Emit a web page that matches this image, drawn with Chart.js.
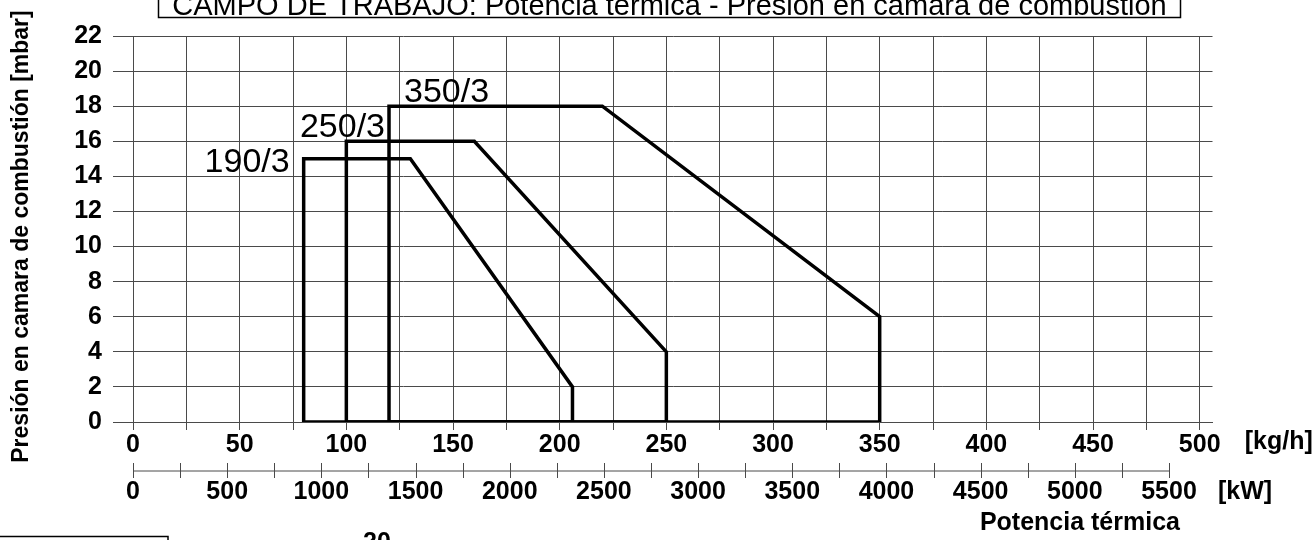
<!DOCTYPE html>
<html>
<head>
<meta charset="utf-8">
<script src="https://cdn.jsdelivr.net/npm/chart.js@4/dist/chart.umd.min.js"></script>
<style>
  html, body { margin: 0; padding: 0; background: #fff; }
  #wrap { width: 1316px; height: 540px; }
</style>
</head>
<body>
<div id="wrap"><canvas id="campo" width="1316" height="540"></canvas></div>
<script>
// Campo de trabajo: caudal [kg/h] y presión en cámara [mbar] por modelo
const modelos = ['190/3', '250/3', '350/3'];
const kg190 = [80, 80, 130, 206, 206, 80];
const mbar190 = [0, 15, 15, 2, 0, 0];
const kg250 = [100, 100, 160, 250, 250, 100];
const mbar250 = [0, 16, 16, 4, 0, 0];
const kg350 = [120, 120, 220, 350, 350, 120];
const mbar350 = [0, 18, 18, 6, 0, 0];

// Marcas de los ejes
const kgTicks = [0, 25, 50, 75, 100, 125, 150, 175, 200, 225, 250, 275, 300, 325, 350, 375, 400, 425, 450, 475, 500];
const kgLabels = [0, 50, 100, 150, 200, 250, 300, 350, 400, 450, 500];
const kwTicks = [0, 250, 500, 750, 1000, 1250, 1500, 1750, 2000, 2250, 2500, 2750, 3000, 3250, 3500, 3750, 4000, 4250, 4500, 4750, 5000, 5250, 5500];
const kwLabels = [0, 500, 1000, 1500, 2000, 2500, 3000, 3500, 4000, 4500, 5000, 5500];
const mbarTicks = [0, 2, 4, 6, 8, 10, 12, 14, 16, 18, 20, 22];

const FONT = '"Liberation Sans", Arial, sans-serif';
const GRID = '#4a4a4a';

function puntos(xs, ys) {
    return xs.map((x, i) => ({ x: x, y: ys[i] }));
}

function serie(label, xs, ys) {
    return {
        label: label,
        data: puntos(xs, ys),
        showLine: true,
        borderColor: '#000',
        borderWidth: 3.5,
        borderJoinStyle: 'miter',
        pointRadius: 0,
        tension: 0,
        fill: false
    };
}

// Textos y cajas que no dibuja el propio Chart.js
const extras = {
    id: 'extras',
    afterDraw(chart) {
        const ctx = chart.ctx;
        const sx = chart.scales.x, sy = chart.scales.y, kw = chart.scales.kw;
        ctx.save();
        ctx.fillStyle = '#000';
        ctx.strokeStyle = '#000';

        // caja del título (cortada arriba)
        ctx.lineWidth = 1.5;
        ctx.strokeRect(158.5, -10, 1022, 27.5);
        ctx.font = '29px ' + FONT;
        ctx.textAlign = 'center';
        ctx.textBaseline = 'alphabetic';
        ctx.fillText('CAMPO DE TRABAJO: Potencia térmica - Presión en cámara de combustión', 669.5, 15);

        // eje kW
        const yk = kw.top + 19;
        ctx.strokeStyle = GRID;
        ctx.lineWidth = 1;
        ctx.beginPath();
        ctx.moveTo(kw.getPixelForValue(0), yk);
        ctx.lineTo(kw.getPixelForValue(5500), yk);
        kwTicks.forEach(v => {
            const px = Math.round(kw.getPixelForValue(v)) + 0.5;
            ctx.moveTo(px, yk - 8);
            ctx.lineTo(px, yk + 7);
        });
        ctx.stroke();

        // unidades
        ctx.font = 'bold 25px ' + FONT;
        ctx.textAlign = 'left';
        ctx.textBaseline = 'middle';
        ctx.fillText('[kg/h]', sx.getPixelForValue(500) + 45, sy.bottom + 20);
        ctx.fillText('[kW]', kw.getPixelForValue(5500) + 49, kw.top + 40);
        ctx.textAlign = 'right';
        ctx.fillText('Potencia térmica', kw.getPixelForValue(5500) + 11, kw.top + 71);

        // título eje Y
        ctx.save();
        ctx.translate(28, 236.5);
        ctx.rotate(-Math.PI / 2);
        ctx.font = 'bold 23px ' + FONT;
        ctx.textAlign = 'center';
        ctx.textBaseline = 'alphabetic';
        ctx.fillText('Presión en camara de combustión [mbar]', 0, 0);
        ctx.restore();

        // nombres de modelo
        ctx.font = '34px ' + FONT;
        ctx.textBaseline = 'alphabetic';
        ctx.textAlign = 'right';
        ctx.fillText(modelos[0], sx.getPixelForValue(80) - 14, sy.getPixelForValue(15) + 13);
        ctx.fillText(modelos[1], sx.getPixelForValue(120) - 4, sy.getPixelForValue(16) - 4);
        ctx.textAlign = 'left';
        ctx.fillText(modelos[2], sx.getPixelForValue(120) + 15, sy.getPixelForValue(18) - 4);

        // recuadro inferior y número de página
        ctx.strokeStyle = '#000';
        ctx.lineWidth = 1.5;
        ctx.strokeRect(-5, 536.5, 173, 20);
        ctx.font = 'bold 25px ' + FONT;
        ctx.textAlign = 'center';
        ctx.textBaseline = 'top';
        ctx.fillText('20', 377, 531);
        ctx.restore();
    }
};

const ctx = document.getElementById('campo').getContext('2d');
new Chart(ctx, {
    type: 'scatter',
    data: {
        datasets: [
            serie(modelos[0], kg190, mbar190),
            serie(modelos[1], kg250, mbar250),
            serie(modelos[2], kg350, mbar350)
        ]
    },
    options: {
        responsive: false,
        animation: false,
        layout: { padding: { top: 36, right: 103.5, bottom: 28, left: 0 } },
        plugins: { legend: { display: false }, tooltip: { enabled: false }, title: { display: false } },
        scales: {
            x: {
                type: 'linear',
                position: 'bottom',
                weight: 0,
                min: 0,
                max: 506,
                afterBuildTicks: s => { s.ticks = kgTicks.map(v => ({ value: v })); },
                afterFit: s => { s.height = 30; },
                ticks: {
                    callback: v => kgLabels.includes(v) ? String(v) : '',
                    font: { family: FONT, size: 25, weight: 'bold' },
                    color: '#000',
                    padding: 0,
                    maxRotation: 0,
                    autoSkip: false
                },
                grid: { color: GRID, lineWidth: 1, tickLength: 8 },
                border: { color: GRID, width: 1 }
            },
            kw: {
                type: 'linear',
                position: 'bottom',
                weight: 1,
                min: 0,
                max: 5731,
                afterBuildTicks: s => { s.ticks = kwTicks.map(v => ({ value: v })); },
                afterFit: s => { s.height = 60; },
                ticks: {
                    callback: v => kwLabels.includes(v) ? String(v) : '',
                    font: { family: FONT, size: 25, weight: 'bold' },
                    color: '#000',
                    padding: 0,
                    maxRotation: 0,
                    autoSkip: false
                },
                grid: { display: true, drawOnChartArea: false, color: 'rgba(0,0,0,0)', tickLength: 25 },
                border: { display: false }
            },
            y: {
                type: 'linear',
                position: 'left',
                min: 0,
                max: 22,
                afterBuildTicks: s => { s.ticks = mbarTicks.map(v => ({ value: v })); },
                afterFit: s => { s.width = 133; },
                ticks: {
                    font: { family: FONT, size: 25, weight: 'bold' },
                    color: '#000',
                    padding: 11
                },
                grid: { color: GRID, lineWidth: 1, tickLength: 20 },
                border: { color: GRID, width: 1 }
            }
        }
    },
    plugins: [extras]
});
</script>
</body>
</html>
